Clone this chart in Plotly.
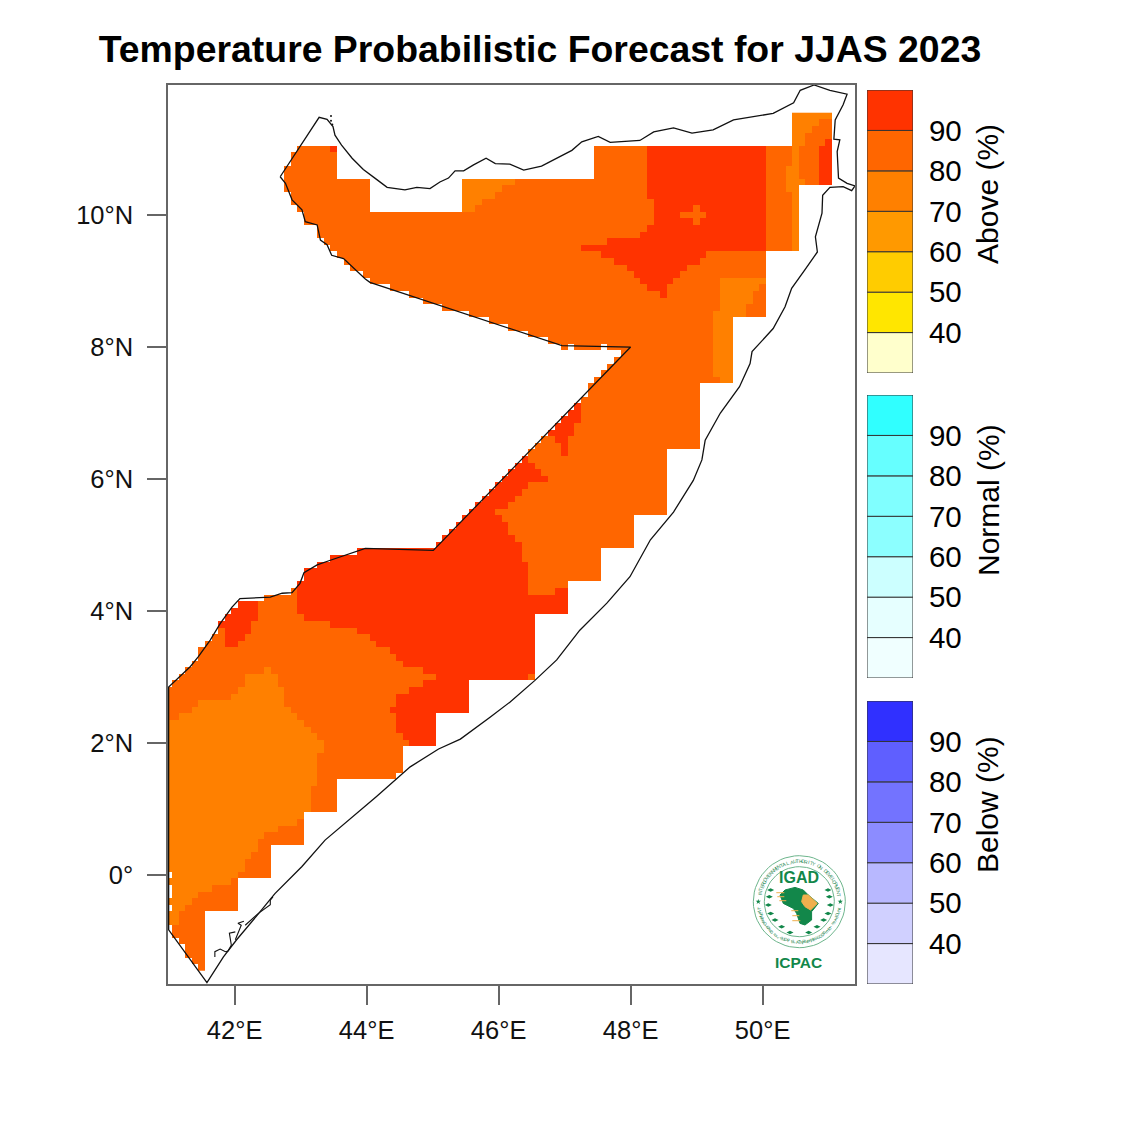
import math
import plotly.graph_objects as go

FONT = "Liberation Sans"
SIZE = 1125

# probability bands: 75 = 70-80 %, 85 = 80-90 %, 95 = above 90 %
# each latitude row holds runs of (first lon, last lon, band)
field_runs = {
    11.5: [(50.5, 51.0, 75)],
    11.4: [(50.5, 50.8, 75), (50.9, 51.0, 85)],
    11.3: [(50.5, 50.7, 75), (50.8, 51.0, 85)],
    11.2: [(50.5, 50.6, 75), (50.7, 51.0, 85)],
    11.1: [(50.5, 50.6, 75), (50.7, 50.9, 85), (51.0, 51.0, 95)],
    11.0: [(43.0, 43.4, 85), (43.5, 43.5, 95), (47.5, 48.2, 85), (48.3, 50.0, 95), (50.1, 50.4, 85), (50.5, 50.5, 75), (50.6, 50.8, 85), (50.9, 51.0, 95)],
    10.9: [(42.9, 43.5, 85), (47.5, 48.2, 85), (48.3, 50.0, 95), (50.1, 50.4, 85), (50.5, 50.5, 75), (50.6, 50.8, 85), (50.9, 51.0, 95)],
    10.8: [(42.9, 43.5, 85), (47.5, 48.2, 85), (48.3, 50.0, 95), (50.1, 50.4, 85), (50.5, 50.5, 75), (50.6, 50.8, 85), (50.9, 51.0, 95)],
    10.7: [(42.8, 43.5, 85), (47.5, 48.2, 85), (48.3, 50.0, 95), (50.1, 50.3, 85), (50.4, 50.5, 75), (50.6, 50.8, 85), (50.9, 51.0, 95)],
    10.6: [(42.8, 43.5, 85), (47.5, 48.2, 85), (48.3, 50.0, 95), (50.1, 50.3, 85), (50.4, 50.5, 75), (50.6, 50.8, 85), (50.9, 51.0, 95)],
    10.5: [(42.8, 44.0, 85), (45.5, 46.2, 75), (46.3, 48.2, 85), (48.3, 50.0, 95), (50.1, 50.3, 85), (50.4, 50.6, 75), (50.7, 50.8, 85), (50.9, 51.0, 95)],
    10.4: [(42.8, 44.0, 85), (45.5, 46.0, 75), (46.1, 48.2, 85), (48.3, 50.0, 95), (50.1, 50.3, 85), (50.4, 50.5, 75)],
    10.3: [(42.9, 44.0, 85), (45.5, 45.9, 75), (46.0, 48.2, 85), (48.3, 50.0, 95), (50.1, 50.4, 85), (50.5, 50.5, 75)],
    10.2: [(42.9, 44.0, 85), (45.5, 45.7, 75), (45.8, 48.3, 85), (48.4, 50.0, 95), (50.1, 50.4, 85), (50.5, 50.5, 75)],
    10.1: [(43.0, 44.0, 85), (45.5, 45.6, 75), (45.7, 48.3, 85), (48.4, 48.9, 95), (49.0, 49.0, 85), (49.1, 50.0, 95), (50.1, 50.4, 85), (50.5, 50.5, 75)],
    10.0: [(43.1, 48.3, 85), (48.4, 48.7, 95), (48.8, 49.1, 85), (49.2, 50.0, 95), (50.1, 50.4, 85), (50.5, 50.5, 75)],
    9.9: [(43.1, 48.3, 85), (48.4, 48.9, 95), (49.0, 49.0, 85), (49.1, 50.0, 95), (50.1, 50.4, 85), (50.5, 50.5, 75)],
    9.8: [(43.3, 48.2, 85), (48.3, 50.0, 95), (50.1, 50.4, 85), (50.5, 50.5, 75)],
    9.7: [(43.3, 48.1, 85), (48.2, 50.0, 95), (50.1, 50.4, 85), (50.5, 50.5, 75)],
    9.6: [(43.4, 47.6, 85), (47.7, 50.0, 95), (50.1, 50.4, 85), (50.5, 50.5, 75)],
    9.5: [(43.5, 47.2, 85), (47.3, 50.0, 95), (50.1, 50.4, 85), (50.5, 50.5, 75)],
    9.4: [(43.6, 47.5, 85), (47.6, 49.1, 95), (49.2, 50.0, 85)],
    9.3: [(43.7, 47.7, 85), (47.8, 49.0, 95), (49.1, 50.0, 85)],
    9.2: [(43.8, 47.9, 85), (48.0, 48.8, 95), (48.9, 50.0, 85)],
    9.1: [(44.0, 48.0, 85), (48.1, 48.7, 95), (48.8, 50.0, 85)],
    9.0: [(44.1, 48.1, 85), (48.2, 48.6, 95), (48.7, 49.3, 85), (49.4, 50.0, 75)],
    8.9: [(44.4, 48.2, 85), (48.3, 48.5, 95), (48.6, 49.3, 85), (49.4, 49.9, 75), (50.0, 50.0, 85)],
    8.8: [(44.7, 48.4, 85), (48.5, 48.5, 95), (48.6, 49.3, 85), (49.4, 49.8, 75), (49.9, 50.0, 85)],
    8.7: [(44.9, 49.3, 85), (49.4, 49.8, 75), (49.9, 50.0, 85)],
    8.6: [(45.2, 49.3, 85), (49.4, 49.7, 75), (49.8, 50.0, 85)],
    8.5: [(45.6, 49.2, 85), (49.3, 49.7, 75), (49.8, 50.0, 85)],
    8.4: [(45.9, 49.2, 85), (49.3, 49.5, 75)],
    8.3: [(46.2, 49.2, 85), (49.3, 49.5, 75)],
    8.2: [(46.5, 49.2, 85), (49.3, 49.5, 75)],
    8.1: [(46.8, 49.2, 85), (49.3, 49.5, 75)],
    8.0: [(47.0, 47.0, 85), (47.2, 47.5, 85), (47.7, 49.2, 85), (49.3, 49.5, 75)],
    7.9: [(47.9, 49.2, 85), (49.3, 49.5, 75)],
    7.8: [(47.8, 49.2, 85), (49.3, 49.5, 75)],
    7.7: [(47.7, 49.2, 85), (49.3, 49.5, 75)],
    7.6: [(47.6, 49.2, 85), (49.3, 49.5, 75)],
    7.5: [(47.5, 49.3, 85), (49.4, 49.5, 75)],
    7.4: [(47.4, 49.0, 85)],
    7.3: [(47.4, 49.0, 85)],
    7.2: [(47.3, 49.0, 85)],
    7.1: [(47.2, 47.2, 95), (47.3, 49.0, 85)],
    7.0: [(47.1, 47.2, 95), (47.3, 49.0, 85)],
    6.9: [(47.0, 47.2, 95), (47.3, 49.0, 85)],
    6.8: [(46.9, 47.1, 95), (47.2, 49.0, 85)],
    6.7: [(46.8, 47.1, 95), (47.2, 49.0, 85)],
    6.6: [(46.7, 46.8, 85), (46.9, 47.0, 95), (47.1, 49.0, 85)],
    6.5: [(46.6, 46.9, 85), (47.0, 47.0, 95), (47.1, 49.0, 85)],
    6.4: [(46.5, 46.9, 85), (47.0, 47.0, 95), (47.1, 48.5, 85)],
    6.3: [(46.4, 46.4, 95), (46.5, 48.5, 85)],
    6.2: [(46.3, 46.5, 95), (46.6, 48.5, 85)],
    6.1: [(46.2, 46.6, 95), (46.7, 48.5, 85)],
    6.0: [(46.1, 46.7, 95), (46.8, 48.5, 85)],
    5.9: [(46.0, 46.4, 95), (46.5, 48.5, 85)],
    5.8: [(45.9, 46.3, 95), (46.4, 48.5, 85)],
    5.7: [(45.8, 46.2, 95), (46.3, 48.5, 85)],
    5.6: [(45.7, 46.1, 95), (46.2, 48.5, 85)],
    5.5: [(45.6, 45.9, 95), (46.0, 48.5, 85)],
    5.4: [(45.5, 46.0, 95), (46.1, 48.0, 85)],
    5.3: [(45.4, 46.1, 95), (46.2, 48.0, 85)],
    5.2: [(45.3, 46.1, 95), (46.2, 48.0, 85)],
    5.1: [(45.2, 46.2, 95), (46.3, 48.0, 85)],
    5.0: [(45.1, 46.3, 95), (46.4, 48.0, 85)],
    4.9: [(43.9, 46.3, 95), (46.4, 47.5, 85)],
    4.8: [(43.5, 46.3, 95), (46.4, 47.5, 85)],
    4.7: [(43.3, 46.4, 95), (46.5, 47.5, 85)],
    4.6: [(43.1, 46.4, 95), (46.5, 47.5, 85)],
    4.5: [(43.1, 46.4, 95), (46.5, 47.5, 85)],
    4.4: [(43.0, 46.4, 95), (46.5, 47.0, 85)],
    4.3: [(42.9, 42.9, 85), (43.0, 46.4, 95), (46.5, 46.8, 85), (46.9, 47.0, 95)],
    4.2: [(42.5, 42.9, 85), (43.0, 47.0, 95)],
    4.1: [(42.1, 42.3, 95), (42.4, 42.9, 85), (43.0, 47.0, 95)],
    4.0: [(42.0, 42.3, 95), (42.4, 42.9, 85), (43.0, 47.0, 95)],
    3.9: [(41.9, 42.3, 95), (42.4, 43.0, 85), (43.1, 46.5, 95)],
    3.8: [(41.8, 42.2, 95), (42.3, 43.4, 85), (43.5, 46.5, 95)],
    3.7: [(41.8, 41.8, 85), (41.9, 42.2, 95), (42.3, 43.8, 85), (43.9, 46.5, 95)],
    3.6: [(41.7, 41.8, 85), (41.9, 42.1, 95), (42.2, 44.0, 85), (44.1, 46.5, 95)],
    3.5: [(41.6, 41.8, 85), (41.9, 42.0, 95), (42.1, 44.1, 85), (44.2, 46.5, 95)],
    3.4: [(41.5, 44.3, 85), (44.4, 46.5, 95)],
    3.3: [(41.5, 44.4, 85), (44.5, 46.5, 95)],
    3.2: [(41.4, 44.5, 85), (44.6, 46.5, 95)],
    3.1: [(41.3, 42.4, 85), (42.5, 42.5, 75), (42.6, 44.8, 85), (44.9, 46.5, 95)],
    3.0: [(41.2, 42.1, 85), (42.2, 42.6, 75), (42.7, 45.0, 85), (45.1, 46.4, 95), (46.5, 46.5, 85)],
    2.9: [(41.1, 42.1, 85), (42.2, 42.6, 75), (42.7, 44.8, 85), (44.9, 45.5, 95)],
    2.8: [(41.0, 42.0, 85), (42.1, 42.7, 75), (42.8, 44.6, 85), (44.7, 45.5, 95)],
    2.7: [(41.0, 41.9, 85), (42.0, 42.7, 75), (42.8, 44.4, 85), (44.5, 45.5, 95)],
    2.6: [(41.0, 41.4, 85), (41.5, 42.7, 75), (42.8, 44.4, 85), (44.5, 45.5, 95)],
    2.5: [(41.0, 41.3, 85), (41.4, 42.8, 75), (42.9, 44.3, 85), (44.4, 45.5, 95)],
    2.4: [(41.0, 41.1, 85), (41.2, 42.9, 75), (43.0, 44.4, 85), (44.5, 45.0, 95)],
    2.3: [(41.0, 43.0, 75), (43.1, 44.4, 85), (44.5, 45.0, 95)],
    2.2: [(41.0, 43.1, 75), (43.2, 44.4, 85), (44.5, 45.0, 95)],
    2.1: [(41.0, 43.2, 75), (43.3, 44.5, 85), (44.6, 45.0, 95)],
    2.0: [(41.0, 43.3, 75), (43.4, 44.6, 85), (44.7, 45.0, 95)],
    1.9: [(41.0, 43.3, 75), (43.4, 44.5, 85)],
    1.8: [(41.0, 43.2, 75), (43.3, 44.5, 85)],
    1.7: [(41.0, 43.2, 75), (43.3, 44.5, 85)],
    1.6: [(41.0, 43.2, 75), (43.3, 44.5, 85)],
    1.5: [(41.0, 43.2, 75), (43.3, 44.4, 85)],
    1.4: [(41.0, 43.2, 75), (43.3, 43.5, 85)],
    1.3: [(41.0, 43.1, 75), (43.2, 43.5, 85)],
    1.2: [(41.0, 43.1, 75), (43.2, 43.5, 85)],
    1.1: [(41.0, 43.1, 75), (43.2, 43.5, 85)],
    1.0: [(41.0, 43.1, 75), (43.2, 43.5, 85)],
    0.9: [(41.0, 43.0, 75)],
    0.8: [(41.0, 42.9, 75), (43.0, 43.0, 85)],
    0.7: [(41.0, 42.6, 75), (42.7, 43.0, 85)],
    0.6: [(41.0, 42.4, 75), (42.5, 43.0, 85)],
    0.5: [(41.0, 42.3, 75), (42.4, 43.0, 85)],
    0.4: [(41.0, 42.3, 75), (42.4, 42.5, 85)],
    0.3: [(41.0, 42.2, 75), (42.3, 42.5, 85)],
    0.2: [(41.0, 42.1, 75), (42.2, 42.5, 85)],
    0.1: [(41.0, 42.1, 75), (42.2, 42.5, 85)],
    0.0: [(41.1, 42.0, 75), (42.1, 42.5, 85)],
    -0.1: [(41.0, 41.9, 75), (42.0, 42.0, 85)],
    -0.2: [(41.1, 41.6, 75), (41.7, 42.0, 85)],
    -0.3: [(41.1, 41.4, 75), (41.5, 42.0, 85)],
    -0.4: [(41.0, 41.3, 75), (41.4, 42.0, 85)],
    -0.5: [(41.1, 41.2, 75), (41.3, 42.0, 85)],
    -0.6: [(41.0, 41.1, 75), (41.2, 41.5, 85)],
    -0.7: [(41.0, 41.1, 75), (41.2, 41.5, 85)],
    -0.8: [(41.1, 41.5, 85)],
    -0.9: [(41.1, 41.5, 85)],
    -1.0: [(41.2, 41.5, 85)],
    -1.1: [(41.3, 41.5, 85)],
    -1.2: [(41.3, 41.5, 85)],
    -1.3: [(41.4, 41.5, 85)],
    -1.4: [(41.5, 41.5, 85)],
}

coast_lon = [42.69, 43.28, 43.40, 43.49, 43.52, 43.62, 43.78, 43.95, 44.15, 44.31, 44.58, 44.76, 44.96, 45.11, 45.24,
             45.34, 45.47, 45.62, 45.81, 45.95, 46.17, 46.38, 46.65, 46.88, 47.11, 47.26, 47.51, 47.69, 48.14, 48.35,
             48.65, 48.93, 49.25, 49.56, 49.94, 50.16, 50.47, 50.57, 50.78, 51.02, 51.28, 51.22, 51.10, 51.08, 51.17,
             51.13, 51.15, 51.28, 51.40, 51.35, 51.22, 51.02, 50.91, 50.90, 50.80, 50.83, 50.64, 50.44, 50.34, 50.16,
             49.84, 49.81, 49.71, 49.65, 49.36, 49.13, 49.08, 48.95, 48.65, 48.30, 47.99, 47.64, 47.23, 46.88, 46.55,
             46.17, 45.87, 45.42, 45.09, 44.66, 44.15, 43.78, 43.37, 43.02, 42.61, 42.34, 42.03, 41.83, 41.58, 41.00,
             41.00, 41.33, 41.45, 41.63, 41.78, 41.96, 42.08, 42.54, 42.72, 42.87, 42.99, 43.05, 43.25, 43.45, 43.98,
             45.01, 48.00, 46.96, 46.17, 44.05, 43.98, 43.65, 43.47, 43.40, 43.30, 43.25, 43.07, 43.02, 42.87, 42.77,
             42.69]
coast_lat = [10.58, 11.48, 11.45, 11.34, 11.21, 11.06, 10.86, 10.69, 10.54, 10.42, 10.38, 10.42, 10.40, 10.50, 10.56,
             10.67, 10.67, 10.76, 10.86, 10.78, 10.77, 10.68, 10.74, 10.86, 10.98, 11.11, 11.19, 11.10, 11.13, 11.26,
             11.32, 11.24, 11.29, 11.44, 11.50, 11.54, 11.70, 11.89, 11.97, 11.89, 11.83, 11.67, 11.44, 11.15, 11.14,
             10.96, 10.56, 10.48, 10.44, 10.37, 10.43, 10.42, 10.30, 10.03, 9.67, 9.44, 9.17, 8.89, 8.61, 8.28,
             7.93, 7.75, 7.53, 7.40, 7.00, 6.59, 6.29, 5.98, 5.50, 5.08, 4.52, 4.12, 3.71, 3.26, 2.95,
             2.62, 2.39, 2.06, 1.91, 1.64, 1.19, 0.88, 0.53, 0.13, -0.28, -0.61, -0.98, -1.24, -1.63, -0.83,
             2.85, 3.16, 3.31, 3.56, 3.81, 4.06, 4.19, 4.21, 4.27, 4.28, 4.42, 4.58, 4.70, 4.77, 4.95,
             4.92, 8.00, 8.02, 8.28, 8.98, 9.03, 9.34, 9.39, 9.55, 9.62, 9.85, 9.90, 10.08, 10.23, 10.48,
             10.58]

# little islands south of Kismayo and off Djibouti
islands_lon = [41.70, 41.70, 41.78, 41.86, 41.90, 41.95, 41.92, 42.01, None, 42.01, 42.10, 42.05, 42.14, None,
               42.16, 42.36, 42.54, 42.54, 42.58]
islands_lat = [-1.24, -1.16, -1.12, -1.16, -1.15, -1.06, -0.88, -0.86, None, -0.98, -0.76, -0.73, -0.70, None,
               -0.76, -0.58, -0.45, -0.38, -0.33]
dots_lon = [43.46, 43.46, 43.48]
dots_lat = [11.50, 11.43, 11.37]

lon_ticks = [42, 44, 46, 48, 50]
lon_labels = ["42°E", "44°E", "46°E", "48°E", "50°E"]
lat_ticks = [0, 2, 4, 6, 8, 10]
lat_labels = ["0°", "2°N", "4°N", "6°N", "8°N", "10°N"]

band_base = [30, 40, 50, 60, 70, 80, 90]
band_step = [10, 10, 10, 10, 10, 10, 10]
band_ticks = [40, 50, 60, 70, 80, 90]
above_colors = ["#FFFFCC", "#FFE600", "#FFCC00", "#FF9900", "#FF8000", "#FF6600", "#FF3300"]
normal_colors = ["#F0FFFF", "#E6FFFF", "#CCFFFF", "#8CFFFF", "#80FFFF", "#66FFFF", "#30FFFF"]
below_colors = ["#E6E6FF", "#D0D0FF", "#B8B8FF", "#8C8CFF", "#7373FF", "#5F5FFF", "#3030FF"]


def px_x(px):
    return px / SIZE


def px_y(py):
    return 1 - py / SIZE


field_lon = [round(41.0 + 0.1 * i, 1) for i in range(102)]
field_lat = list(field_runs.keys())
field_z = []
for lat in field_lat:
    row = [None] * len(field_lon)
    for first, last, band in field_runs[lat]:
        for i in range(round((first - 41.0) * 10), round((last - 41.0) * 10) + 1):
            row[i] = band
    field_z.append(row)

band_scale = []
for i, c in enumerate(above_colors):
    band_scale.append([i / 7, c])
    band_scale.append([(i + 1) / 7, c])

fig = go.Figure()
fig.add_trace(go.Heatmap(x=field_lon, y=field_lat, z=field_z, zmin=30, zmax=100, colorscale=band_scale,
                         showscale=False, hoverongaps=False))
fig.add_trace(go.Scatter(x=coast_lon, y=coast_lat, mode="lines", line=dict(color="#111111", width=1.3)))
fig.add_trace(go.Scatter(x=islands_lon, y=islands_lat, mode="lines", line=dict(color="#111111", width=1.1)))
fig.add_trace(go.Scatter(x=dots_lon, y=dots_lat, mode="markers", marker=dict(color="#111111", size=2)))

# the three legend bars, bottom to top of the page: above, normal, below
bars = [("2", above_colors, 90, 373, "Above (%)", 194),
        ("3", normal_colors, 395, 678, "Normal (%)", 500),
        ("4", below_colors, 701, 984, "Below (%)", 805)]
layout_axes = {}
for n, colors, top, bottom, label, label_y in bars:
    fig.add_trace(go.Bar(x=[0] * 7, y=band_step, base=band_base, width=1, marker=dict(color=colors, line=dict(color="#333333", width=1)),
                         xaxis="x" + n, yaxis="y" + n))
    layout_axes["xaxis" + n] = dict(domain=[px_x(867), px_x(913)], range=[-0.5, 0.5], anchor="y" + n,
                                    showticklabels=False, ticks="", showgrid=False, zeroline=False)
    layout_axes["yaxis" + n] = dict(domain=[px_y(bottom), px_y(top)], range=[30, 100], anchor="x" + n, side="right",
                                    tickmode="array", tickvals=band_ticks, ticks="outside", ticklen=9,
                                    tickcolor="rgba(0,0,0,0)", showgrid=False, zeroline=False,
                                    tickfont=dict(family=FONT, size=29.5, color="black"))

# IGAD / ICPAC logo, drawn in its own little axes measured from the logo centre
GREEN = "#12874A"
africa_x = [-14.3, -4.3, 4, 9, 19, 12.3, 12.3, 5.7, 0.7, -2.7, -6, -16, -19.3, -14.3]
africa_y = [11.7, 14.3, 11.7, 6.7, -1.7, -10, -18.3, -23.3, -21.7, -11.7, -6.7, -1.7, 6.7, 11.7]
horn_x = [4, 9, 18, 11.3, 5.7, 2.3, 4]
horn_y = [6.7, 6.7, -1.7, -8.3, -5, 0, 6.7]
finger_x = [-23, -15, None, -22, -15, None, -20, -13, None, -8, -1, None, -7, 0, None, -7, 1]
finger_y = [9, 9, None, 5, 5, None, 1, 1, None, -9, -9, None, -14, -14, None, -19, -19]
laurel_x = [-28.7, -30, -31, -28.7, -24.3, -17.7, -9.3, 28.7, 30, 31, 28.7, 24.3, 17.7, 9.3]
laurel_y = [11.7, 5, -3.3, -11.7, -18.3, -25, -30.7, 11.7, 5, -3.3, -11.7, -18.3, -25, -30.7]
ring_angles = [i * 6 for i in range(61)]
outer_x = [46 * math.sin(math.radians(a)) for a in ring_angles]
outer_y = [46 * math.cos(math.radians(a)) for a in ring_angles]
inner_x = [35 * math.sin(math.radians(a)) for a in ring_angles]
inner_y = [35 * math.cos(math.radians(a)) for a in ring_angles]

logo = dict(xaxis="x5", yaxis="y5")
fig.add_trace(go.Scatter(x=outer_x, y=outer_y, mode="lines", line=dict(color="#6DB58C", width=1), **logo))
fig.add_trace(go.Scatter(x=inner_x, y=inner_y, mode="lines", line=dict(color="#6DB58C", width=1), **logo))
fig.add_trace(go.Scatter(x=africa_x, y=africa_y, mode="lines", fill="toself", fillcolor=GREEN, line=dict(color=GREEN, width=1), **logo))
fig.add_trace(go.Scatter(x=horn_x, y=horn_y, mode="lines", fill="toself", fillcolor="#EFB04E", line=dict(color="#EFB04E", width=1), **logo))
fig.add_trace(go.Scatter(x=finger_x, y=finger_y, mode="lines", line=dict(color="#EFB04E", width=1), **logo))
fig.add_trace(go.Scatter(x=laurel_x, y=laurel_y, mode="markers", marker=dict(color=GREEN, size=5, symbol="diamond-wide"), **logo))
fig.add_trace(go.Scatter(x=[-41, 41], y=[0, 0], mode="markers", marker=dict(color=GREEN, size=4, symbol="star"), **logo))

annotations = [
    dict(text="IGAD", x=0, y=24, xref="x5", yref="y5", showarrow=False, font=dict(family=FONT, size=16, color=GREEN, weight="bold")),
    dict(text="ICPAC", x=-1, y=-61, xref="x5", yref="y5", showarrow=False, font=dict(family=FONT, size=15.5, color=GREEN, weight="bold")),
]
ring_top = "INTERGOVERNMENTAL AUTHORITY ON DEVELOPMENT"
ring_bottom = "AUTORITÉ INTERGOUVERNEMENTALE POUR LE DÉVELOPPEMENT"
for i, ch in enumerate(ring_top):
    a = -80 + 160 * i / (len(ring_top) - 1)
    annotations.append(dict(text=ch, x=40.5 * math.sin(math.radians(a)), y=40.5 * math.cos(math.radians(a)), xref="x5", yref="y5",
                            textangle=a, showarrow=False, font=dict(family=FONT, size=5, color="#2E8B57")))
for i, ch in enumerate(ring_bottom):
    a = 80 - 160 * i / (len(ring_bottom) - 1)
    annotations.append(dict(text=ch, x=40.5 * math.sin(math.radians(180 - a)), y=40.5 * math.cos(math.radians(180 - a)), xref="x5", yref="y5",
                            textangle=a, showarrow=False, font=dict(family=FONT, size=4.5, color="#2E8B57")))

for n, colors, top, bottom, label, label_y in bars:
    annotations.append(dict(text=label, x=px_x(988), y=px_y(label_y), xref="paper", yref="paper", textangle=-90,
                            xanchor="center", yanchor="middle", showarrow=False, font=dict(family=FONT, size=30, color="black")))

fig.update_layout(
    width=SIZE, height=SIZE, margin=dict(l=0, r=0, t=0, b=0), showlegend=False, barmode="overlay",
    paper_bgcolor="white", plot_bgcolor="rgba(0,0,0,0)", hovermode=False,
    title=dict(text="<b>Temperature Probabilistic Forecast for JJAS 2023</b>", x=px_x(540), y=px_y(49), xanchor="center", yanchor="middle",
               font=dict(family=FONT, size=37.4, color="black")),
    xaxis=dict(domain=[px_x(168), px_x(855)], range=[40.99, 51.40], tickmode="array", tickvals=lon_ticks, ticktext=lon_labels,
               ticks="outside", ticklen=19, tickwidth=1.5, tickcolor="#666666", showline=True, linecolor="#666666", linewidth=1.5, mirror=True,
               showgrid=False, zeroline=False, ticklabelstandoff=4, tickfont=dict(family=FONT, size=25.5, color="#111111")),
    yaxis=dict(domain=[px_y(984), px_y(85)], range=[-1.65, 11.97], tickmode="array", tickvals=lat_ticks, ticktext=lat_labels,
               ticks="outside", ticklen=19, tickwidth=1.5, tickcolor="#666666", showline=True, linecolor="#666666", linewidth=1.5, mirror=True,
               showgrid=False, zeroline=False, ticklabelstandoff=9, tickfont=dict(family=FONT, size=25.5, color="#111111")),
    xaxis5=dict(domain=[px_x(734.3), px_x(864.3)], range=[-65, 65], anchor="y5", visible=False),
    yaxis5=dict(domain=[px_y(966.7), px_y(836.7)], range=[-65, 65], anchor="x5", visible=False),
    annotations=annotations,
    **layout_axes,
)

fig.write_html("out.html", config=dict(displayModeBar=False), post_script="document.body.style.margin='0';")
